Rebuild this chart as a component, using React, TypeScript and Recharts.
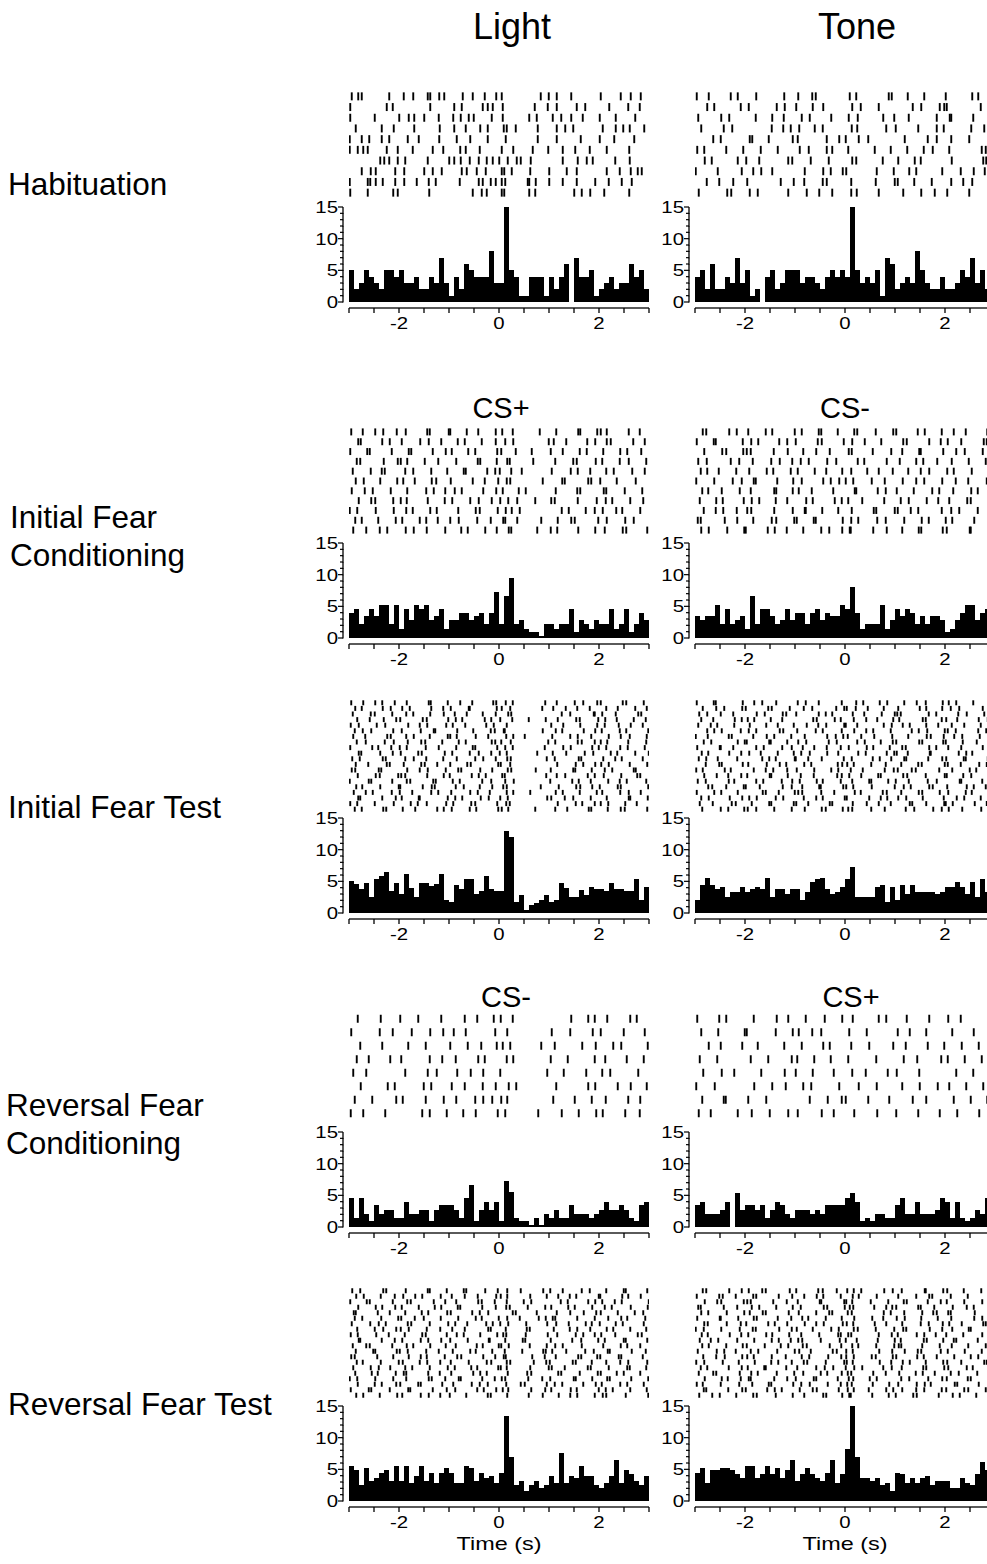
import React from "react";
import { BarChart, Bar, XAxis, YAxis, ScatterChart, Scatter } from "recharts";

const FONT = '"Liberation Sans", Arial, Helvetica, sans-serif';

// x axis: time (s), 0.1 s bins from -3 to 3
const BIN = 0.1;
const X_TICKS = [-3, -2.5, -2, -1.5, -1, -0.5, 0, 0.5, 1, 1.5, 2, 2.5, 3];
const X_LABELS = [-2, 0, 2];
const Y_TICKS = [0, 1, 2, 3, 4, 5, 6, 7, 8, 9, 10, 11, 12, 13, 14, 15];

// PSTH values, one per 0.1 s bin
const habLightPsth = [5, 2, 3, 5, 4, 3, 2, 5, 5, 4, 5, 3, 3, 4, 2, 2, 4, 3, 7, 3, 1, 4, 2, 6, 5, 4, 4, 4, 8, 3, 3, 15, 5, 4, 1, 1, 4, 4, 4, 1, 4, 2, 4, 6, 0, 7, 4, 4, 5, 1, 2, 3, 4, 2, 3, 3, 6, 4, 5, 2];
const habTonePsth = [4, 5, 2, 6, 2, 2, 4, 3, 7, 3, 5, 1, 2, 0, 4, 5, 2, 3, 5, 5, 5, 3, 4, 4, 3, 2, 4, 5, 4, 5, 4, 15, 5, 3, 4, 3, 5, 1, 7, 6, 2, 3, 4, 3, 8, 5, 3, 2, 2, 4, 2, 2, 3, 5, 4, 7, 3, 5, 2, 3];
const ifcLightPsth = [4, 4.6, 2.2, 3.4, 4.6, 3.4, 5.2, 5.2, 2.2, 5.2, 1.5, 4.6, 2.8, 5.2, 4.6, 5.2, 2.8, 3.4, 4.6, 1.5, 2.8, 2.8, 4, 4, 2.8, 3.4, 4, 2.2, 4, 7.3, 2.2, 6.7, 9.5, 2.2, 2.8, 1.5, 0.9, 0.9, 0.3, 2.2, 2.2, 1.5, 2.2, 2.2, 4.6, 0.9, 2.8, 2.2, 1.5, 2.8, 2.2, 2.2, 4.6, 1.5, 2.2, 4.6, 0.9, 2.2, 4, 2.8];
const ifcTonePsth = [3.4, 2.8, 3.4, 3.4, 5.2, 2.2, 4.6, 2.2, 2.8, 3.4, 1.5, 6.7, 2.2, 4.6, 4.6, 3.4, 2.2, 2.8, 4.6, 2.8, 4, 4, 2.2, 4, 4.6, 2.8, 4, 3.4, 3.4, 5.2, 4.6, 8, 4, 1.5, 2.2, 2.2, 2.2, 5.2, 1.5, 2.8, 4.6, 3.4, 4.6, 4, 2.2, 3.4, 2.2, 3.4, 3.4, 2.8, 0.9, 1.5, 2.8, 4, 5.2, 5.2, 2.8, 4, 4.6, 3.4];
const iftLightPsth = [5, 4.6, 3.8, 4.8, 2.6, 5.4, 5.8, 6.5, 3.4, 4.8, 3, 6.1, 4, 2.6, 4.8, 4.8, 4.2, 4.6, 6.1, 2, 1.7, 4.4, 3.8, 5.4, 5.4, 3, 3.4, 5.8, 3.8, 3.4, 3.4, 13, 12, 1.7, 2.9, 0.5, 1.2, 1.6, 2, 2.9, 1.7, 2.1, 4.8, 4, 2.6, 2.6, 3.6, 2.9, 4.1, 3.8, 3.8, 3.4, 4.8, 3.8, 3.8, 3.4, 3.4, 5.4, 2.1, 4.1];
const iftTonePsth = [2.1, 4.5, 5.6, 4.5, 3.8, 4.1, 2.6, 3.3, 3.3, 4.1, 3.3, 3.8, 4.1, 3.8, 5.6, 2.6, 3.8, 3.8, 3, 3.8, 3.8, 2.1, 3.3, 4.9, 5.3, 5.6, 3.8, 3, 3.3, 4.1, 5.3, 7.3, 2.6, 2.6, 2.6, 2.6, 4.1, 4.5, 1.8, 4.1, 2.1, 4.5, 3, 4.5, 3.3, 3.3, 3.3, 3.3, 3, 3.3, 4.1, 4.1, 4.9, 4.1, 3, 4.9, 2.6, 5.3, 3.3, 4];
const rfcLightPsth = [4.6, 1.5, 4.6, 2.1, 0.9, 3.4, 2.1, 2.7, 2.7, 1.5, 1.5, 4, 2.1, 2.1, 2.7, 2.7, 0.9, 2.7, 3.4, 3.4, 3.4, 2.7, 1.5, 4.6, 6.7, 0.9, 2.7, 4, 2.7, 4, 0.9, 7.3, 5.5, 1.5, 0.9, 0.9, 0.3, 1.5, 0.3, 2.1, 1.5, 2.7, 1.5, 1.5, 3.4, 2.1, 2.1, 2.1, 1.5, 2.1, 2.7, 4, 2.7, 2.7, 3.4, 2.7, 1.5, 0.9, 3.4, 4];
const rfcTonePsth = [3.4, 4, 2.1, 2.1, 2.1, 2.7, 4, 0, 5.3, 2.7, 3.4, 3.4, 2.7, 3.4, 1.5, 2.7, 4, 3.4, 2.1, 1.5, 2.7, 2.7, 2.7, 2.1, 2.7, 2.1, 3.4, 3.4, 3.4, 3.4, 4.6, 5.3, 4, 0.9, 1.5, 0.9, 2.1, 2.1, 1.5, 1.5, 3.4, 4.6, 2.1, 2.1, 4, 2.1, 2.1, 2.1, 2.7, 4.6, 4, 1.5, 4, 1.5, 0.9, 1.5, 2.7, 2.1, 4.6, 2.5];
const rftLightPsth = [5.6, 4.9, 2.5, 5.2, 3.2, 3.6, 4.5, 4.9, 3.2, 5.6, 3.2, 5.6, 2.9, 3.9, 5.6, 3.2, 4.5, 2.9, 4.5, 5.2, 4.5, 2.9, 2.9, 5.6, 5.2, 3.2, 4.5, 3.6, 3.9, 2.9, 4.5, 13.5, 6.9, 2.5, 3.2, 1.6, 2.5, 3.2, 2, 2.5, 3.9, 2.9, 7.6, 2.9, 3.9, 3.6, 5.6, 3.9, 3.9, 2.5, 2, 2.9, 3.9, 6.5, 2.9, 4.9, 4.2, 3.2, 2.5, 3.9];
const rftTonePsth = [4.5, 5.2, 2.9, 4.9, 4.9, 5.2, 5.2, 4.9, 4.2, 3.6, 5.6, 5.6, 3.6, 4.2, 5.6, 4.2, 5.2, 3.6, 4.9, 6.5, 3.2, 4.2, 5.2, 4.2, 3.6, 3.2, 4.5, 6.5, 2.9, 4.2, 8.2, 15, 6.9, 3.6, 3.6, 3.2, 3.6, 2.5, 2.9, 1.6, 4.5, 4.2, 2.9, 3.6, 2.9, 3.6, 3.9, 2.5, 3.2, 3.2, 3.2, 2, 2, 3.6, 2.9, 2.5, 4.2, 6.2, 4.9, 4];

// Raster trials: one char per 0.1 s bin ('.' = no spike, digit = spike at +0.0d s in the bin),
// grouped by second with spaces
const habLightRaster = [
  "585.....0. 9.8..72.00 ..7.7..1.4 5.......39 .5..4..... 3...3.3.3.",
  "2......57. ......2... .05...777. 7......1.7 .5...5.2.. ..0..8..1.",
  "2....1.... 09.0.0.9.. 8.399...5. 7.....05.. 7.4.4.7... 1..3...2..",
  ".3....5.9. ...0....1. .0.3..27.. 95.3...7.. .5.28..... 7..38.1..0",
  "1.5.0.5.0. .7.9....0. .5..2..7.. .3.....7.. .5....3... 1..0...0..",
  "1787...5.7 ..7...7.8. ..23..1... 5.8...7..8 ..7..2..1. .5....0...",
  "......2007 .2...7.... 003.19.57. 07.53.3... ..7..7.57. ...2..1...",
  "..5.33...2 .0...07.5. ..55.5.3.. 505...2... 0..5.5.... .5..1.375.",
  "1..7237..2 .0.5.9.3.. ..1..97.33 52...703.. 0.7..5...2 .9..5.5...",
  "2..7....87 ......0... ....7.55.. 50....02.. .....05.2. .0....0...",
];
const habToneRaster = [
  "3.7....15. ..2....8.. 6..41..... 9.2.....73 ..5..8.... 1....46..2",
  "..48.....1 7.....39.. 2..5.6.... .4.1..7... ...5.2..98 3......1.4",
  "6....28... ..1..4.7.. .39....2.. 7.5....6.8 ..7.....3. 92...6....",
  ".2...7.4.. .....3.6.1 8..9.5.... .34.....2. 1...6...37 .....2.8..",
  "...6.1.... 94..7....5 5.....3.8. 1.7.6..... .9....5.3. .2..8...6.",
  "48....2..6 ...1..5... 9.7...34.. 6....9...1 ..4..7.5.. 8......31.",
  ".9.3....5. 2.8.....64 ...1..7... .42....5.. 6..9.1.... .3.....62.",
  "1...5....3 .6.2.4.... .9...6.1.5 2.....3..7 ..8.2....4 ...1.7.9..",
  "..3.8..6.. 4......1.7 .8...53... .2....1..9 5..8...3.. .2.6.4...7",
  "7.....42.. 9.5.....6. ..3.8..4.. .23...7... .6...2.9.. 4...8....5",
];
const ifcLightRaster = [
  "4.7..28..5 .3...61..9 2..5.8...3 6.7.....1. .4...82..6 35...9..1.",
  ".83...6.1. 5...29..4. .7.1..5..3 .28......9 9..4...6.2 .53...8..1",
  "2..61...5. .94...7..3 5..8.2...6 4..3..5... 3.7...15.. 8...26..4.",
  ".52...9..7 36...1.8.. .4...72..5 .61...8... .2..85...3 6...19...4",
  "7...3.51.. .28...4..6 ..93...6.2 1.4.5..... 5...37..2. .49...6..1",
  ".39...2..6 8..1..54.. 3...7..1.8 .52.....7. ..61...84. 2..5...3..",
  "5..17...3. .6...49..2 .15...8..4 7..9.3.... .3...62... 94...1..6.",
  ".9..42..8. 35...7...1 6...29..5. 28.6...2.. 41...7...5 .36...2.8.",
  "16...3..9. .47...25.. .8...31..7 .35.1..... ..59...3.1 7..46...2.",
  ".25..8...3 6...14.7.. 29...6..3. 82.6....4. .7..41...8 .5...29...",
  "8..4..16.. .39..5...2 ..47...2.5 .94....6.. 36...8...2 .1..74...6",
];
const ifcToneRaster = [
  ".52...8.3. 6...14...9 .3..72..5. .84...1..6 2...59...3 .7..1...48",
  "3..71....5 .26...8.4. 1...53...7 .4.9...2.. .63...8..1 5..2...73.",
  ".8...42..6 31...7..5. .6..2.9... 73...5...2 .4..81...6 ..29...5..",
  "6.3....18. .5...29..4 .17...4.2. ..58....3. 9...26..4. .3..7...1.",
  ".14.7...2. 8...36...1 5..9..2..4 .2..4.7..5 ..6..18... 47...3..9.",
  "2..8...5.3 .71...4..6 .3...6.18. 16...3.9.. .5..28...4 ..1.6...37",
  ".46..3..9. .1...82..5 7..3...6.. .92...5.1. 3..7...48. .6...25..1",
  "9...25...7 .38...1.4. ..25...9.3 6..4...8.. .17...3.6. 8...41...2",
  ".7..16..3. 42...8...5 .91..4..6. .3...72..9 5..16....3 .28...5..7",
  "51...9..4. .6...32..8 3..71....5 .26...4.1. .8...37... 14...8..6.",
  ".27...4..8 1...59..3. .6...28..4 91...6..3. .4..72...5 3...91..8.",
];
const iftLightRaster = [
  "4.8..26..1 .5...93..7 ..2.6...84 .37......2 .5...18..6 3...74..9.",
  ".25...7.3. 6.1...4.8. 3..91....5 5.2.....6. 8..3.6..1. .4.7...2.5",
  "7...31..6. .48...2.9. .1.5..7..3 .84....... ..5.2...91 6..3...84.",
  ".6..1.9..4 2...75...8 .36....14. 2.6..9...3 .7...41..8 .2.5..9..3",
  "39...5.2.. .8..16...4 7..2...49. .5........ 4.8...2..6 .1.9..3.7.",
  ".17.4...8. 5...3.92.. .6..8...31 91......7. .36...9..2 5...14...8",
  "8..2...63. .49...1..7 25...3.8.. .48..1.... 6...27..4. .9..3.1..5",
  ".5.3...19. .7..42..6. .9.3....52 4.3......8 .2...75..1 36...8...4",
  "2...68..4. 15...3.9.. .4..72...6 .27......1 ..8.3...69 .4..27...1",
  ".94...2.7. 3..85....1 6...19..4. 15.....6.. 7..4...18. ..36...2.9",
  "6.1...73.. .29..4..8. .5...28..3 .63......5 .1...94... 8..25...7.",
  ".3.8...51. 9...41.6.. 2..63....8 3.2....... .6...38..2 49....1..6",
  "52...94... .6..17...3 .84...2.6. .74....3.. 3...82..5. .16...93..",
  ".7...31..8 42...6..9. 1...59.3.. 61.......4 .5.2...7.1 9...4..62.",
  "1..94...6. .52...83.. 7.1...6.4. .29....... 2...69..3. .8..15...4",
  ".46...2..9 2...7.51.. .39...1.6. 85......3. .9...42.6. 1..73....8",
  "9..37...5. 1.6...48.. 4...27..1. .58...2... .37...1..5 6...29..3.",
  ".82...6..3 5..91....7 .26...39.. 27.......6 4..18...3. .5...92..7",
  "26...1..9. ..37.5...4 8...42...6 .41....... .7...36..1 38...2.5..",
  ".15...84.. 7..2...69. 5...14...8 58.....2.. .2.6...94. .7..31...6",
];
const iftToneRaster = [
  "3..71....5 .8.4..2... 5.1.7....3 ..26..9.4. .8..3.1..5 7.2..6...9",
  ".5..28...4 1...63..9. .7.4....28 3.1.5..7.. 6...9.2..4 .18....5.3",
  "8.4..1.6.. ..39...52. 2...7.14.. .5.8...3.9 41....7.2. ..6.3..8.1",
  ".2.6...9.3 58...1.4.. ...63..9.1 .7..2.4..6 8....51..3 2.4...7.5.",
  "6..14..8.. 9...2.5..7 ..3.6.2..8 1.4....7.3 .59...2.6. .3.8...1.4",
  "..48.3...1 7.2...96.. 4...15...3 .8..26...1 ...37.4..9 5.1...6.2.",
  "1.5...73.. .6..38...2 .9....4.16 5..2.8...4 ..6...31.7 .8.4..9...",
  ".7.2....59 3...81..4. 6.2...7.3. ..49...1.5 2...84...6 1..5..3.8.",
  "4...91.6.. ..27...4.3 .5.8..3..1 7...36..9. .41...8.2. 6..2...59.",
  ".36...8..2 8..1..5..7 .29...4.6. ..6.1...38 3.5...91.. ..7.24...6",
  "7.2.5...4. ...48.1..9 1.6..3...7 .3...59..2 .82...6..4 2..71...5.",
  "..1.83...5 6...3.9.2. .8.2....54 47...2..1. .2..63...9 5..1..8.3.",
  "25...9.1.. .7..16..4. 3..8...26. .1.5...9.7 5..31...8. .4..9.2..6",
  ".8..3.6..2 4...92..5. .1.7....43 8..2..61.. .64...1..9 3..6.2...7",
  "5.1...78.. ..26...3.4 9...35...1 .4..82..6. 1.7...5.3. ..92...4.8",
  "..64..2..7 1.9....5.3 .4..81...6 26...3...9 .7.1..85.. 4...37..1.",
  "3..8.2..5. ...51.7..9 64...2.8.. .9.1...53. .2..74..9. 6...13...5",
  ".27...9..4 8.3...16.. .7..25...9 3...8..14. 6.2..5...7 ..38...1.6",
  "9..5...31. .3..82...7 2.6...94.. .5..3.7..1 ..94..2..8 15...9..3.",
  ".4...16..8 5.2..8...3 .9...31..5 64...2.9.. ..18...6.3 7..4...26.",
];
const rfcLightRaster = [
  ".7....3... 2..8....4. ...1.6..9. 3.7....... ....4..8.1 .6....25..",
  "4.....1.7. ..5...2.8. 9..3.....2 .6........ 5...2...7. 3...9....1",
  "..2...6... .8...3.... 2..7..4..5 7.2.....4. .1....6..3 ..8.4....7",
  ".5.9....2. 4.....1.6. .3...8.1.. .58....... 3..7.....1 .2...5..9.",
  "8..4...... .2...7.5.. .6..3.8... 2........6 ..9....4.. 6.2....8..",
  "..3....7.1 ....9.4... 5..1..7..3 .9.4...... .4.....8.2 ...7..3..5",
  ".1..6....4 7....3..9. .4...28.6. 46........ 8....1..5. .3...8..2.",
  "3.8....2.. ....6.1..5 ..8..3...7 .2.....8.. ..5..9...4 7....2..1.",
];
const rfcToneRaster = [
  "4...8.2... .7....3.6. ..1..9...4 .5....7.2. ..3...8... 6..1.....4",
  ".2..6....9 3.....1..5 7..4.2.... 8...3..... 5.9...2... .4...7...1",
  "..7..1...4 ..5....8.. .3...69... .2..8....6 ..1...5..8 ...3..7...",
  "9...4..... .1..6....3 4..8...1.. 6.....2... .7..4....2 5..9...3..",
  ".6...3.8.. ...2...9.. 1..5...7.. .4..1...5. 3...8..... ..2..6...9",
  "2..9...... .8...4..1. .6.2....8. ..7...3... .4..9...5. 8...2..6..",
  ".4...71... 6...2..... ..9...5..3 1...6...8. ...5..2... .7...1..4.",
  "7..1....5. .3..9...6. 5....3.7.. .8....4... 2...6...9. ..4...8..3",
];
const rftLightRaster = [
  "6.2...84.. .3...71..5 ..94...2.7 .6..3...8. 2.7...5.1. .4..93...6",
  ".49...3..1 8..26...3. 5..1.7...4 36....2..5 .8..14...9 2...68..3.",
  "2..51...7. .63...9..2 .4...85..1 .5..9.4... ..37...8.2 6..15....9",
  ".8...36..2 5..9...14. .72...6..3 .41..7...2 4..8.1..6. .15...3..7",
  "93...7..1. .2..58...6 3...6.18.. ..73...5.. .5..2.9..4 3..7...18.",
  ".16...4..8 4..19...3. .8...35..9 .6..1..9.3 72...6...1 .8..46...2",
  "5...29.3.. .74...1..8 .2.6...47. 28...4...6 .4.9...35. 1..37...9.",
  ".6...18..4 39...5..2. 6..1...83. .3...51... 9...16..2. .58...2..4",
  "37...4.9.. .1..63...5 .59...2..6 84...3...7 .6...38..1 4..2...75.",
  ".92...5..1 6...38..4. 2..7...91. .2..72.... 3...6.4..8 .1..93...6",
  "7..41...6. .58...2..3 .3...57..9 49....1..5 .27...5... 8...36..2.",
  ".3..82...5 17...4.9.. 7...23..6. .1..6...83 6..4...29. .71...5..3",
  "41...6..8. .9..35...1 .64...8..2 93....6..1 .3...84..6 2..94...7.",
  ".57...3..9 7...16..2. 3..9...54. .52...9..4 1...73..5. .4..28...6",
  "8...39..2. .26...1..7 .1..46...8 35....2..9 5..1...73. .9...61..4",
  ".2..57...3 94...8..1. 4...8.25.. .7...64... .84...1..7 3..59...2.",
  "16...2..8. .4...95..2 .93...6..1 52...8..6. 2...93..6. .61...4..8",
  ".7...15..4 2..83...6. 8...5.17.. .4..31...5 .16...8..3 5...26..9.",
  "3..94...1. .82...7..5 .2...69..4 78....4..2 4...35...9 .37...2..5",
  ".48...1..6 6...39..2. 1..4...73. .6...9..7. .9..26...1 74...3...8",
];
const rftToneRaster = [
  ".52...8..3 7..41...9. 2...65..3. 47.2...8.5 .3...91..6 4..7...28.",
  "3...85..1. .62...7..4 .8..36...1 .57...3... 6...2.84.. .1..5...93",
  ".9..42...7 41...6..3. 5...92...8 24...1..6. .73...5..1 3..8...46.",
  "61...7..4. .38...2..5 .1...74..9 96...8..24 2...61.8.. .5..37...2",
  ".26...3..8 9..51...7. 7...2.84.. 53.....7.1 .8...4.63. 61...9...4",
  "4...91..6. .73...5..2 .46...1..3 .8...4.6.. 39...2..5. .2...8.47.",
  ".85...3..1 2...69..4. .9..27...5 36...9..2. .4...17..5 8..3...61.",
  "17...2..9. .51...8..3 3..5...27. .75...1..8 .62...9..4 .4..71...9",
  ".35...9..2 6...24..8. .2..8...61 62....7..3 5...38..1. 2..6...47.",
  "9..16...4. .8...37..1 64...1..9. 1.3...5..9 .1...73..6 .72...5..3",
  ".47...2..5 3..9...16. .53...9..2 .46...2..8 72...4..9. .3..6...18",
  "5...38..1. .16...4..9 8..1...53. 25....8..4 .9..52...1 5..9...3.6",
  ".6..29...4 47...3..1. .38...6..2 27...31..5 2...47..3. .8...16..2",
  "28...5..7. .9...26..3 .74...1..8 35....9..2 .59...1..6 4..2...83.",
  ".14...7..3 5..81...2. 4...29.6.. 18.4...6.3 .3...62..8 6...35...9",
  "7..62...9. .25...3..8 .6...14..3 52...6..1. 8...15.9.. .17...4..5",
  ".9...35..1 71...8..4. 1..72...5. 76..9.3... .28...6..4 3...51...7",
  "35...1..8. .4..72...6 .29...5..1 43...5..8. 6...39.1.. .94...7..2",
  ".72...6..4 1...49.3.. 9..53...7. 57..7...26 .4..28...3 2..86...1.",
  "8..49...2. .63...1..5 .8...62..4 81...4..7. 1..63...7. .59...2..4",
];

const PX_PER_S = 50;
const HIST_PLOT_H = 101;
const ZERO_PAD = 6;
const UNIT = (HIST_PLOT_H - ZERO_PAD) / 15;
const TICK_FS = 17;
const LABEL_SX = 1.2;
const Y_AXIS_W = 48;
const TOP_M = 12;

const parseTrial = (s: string) => {
  const cells = s.replace(/ /g, "");
  const out: number[] = [];
  for (let i = 0; i < cells.length; i++) {
    const c = cells[i];
    if (c !== ".") out.push(-3 + i * BIN + (Number(c) + 0.5) * 0.01);
  }
  return out;
};

function XTick(props: any) {
  const { x, y, payload, showTime } = props;
  const v = payload.value;
  return (
    <g>
      {v < 3 && <line x1={x} x2={x + PX_PER_S / 2} y1={y} y2={y} stroke="#000" strokeWidth={1.3} />}
      <line x1={x} x2={x} y1={y} y2={y + 5} stroke="#000" strokeWidth={1.3} />
      {X_LABELS.includes(v) && (
        <text transform={`translate(${x},${y + 21}) scale(${LABEL_SX},1)`} textAnchor="middle" fontSize={TICK_FS} fontFamily={FONT} fill="#000">
          {String(v)}
        </text>
      )}
      {showTime && v === 0 && (
        <text transform={`translate(${x},${y + 43}) scale(1.3,1)`} textAnchor="middle" fontSize={18} fontFamily={FONT} fill="#000">
          Time (s)
        </text>
      )}
    </g>
  );
}

function YTick(props: any) {
  const { x, y, payload } = props;
  const v = payload.value;
  const ax = x - 6;
  const major = v % 5 === 0;
  return (
    <g>
      {v < 15 && <line x1={ax} x2={ax} y1={y + 0.6} y2={y - UNIT} stroke="#000" strokeWidth={1.3} />}
      <line x1={ax - (major ? 5 : 3)} x2={ax} y1={y} y2={y} stroke="#000" strokeWidth={1.2} />
      {major && (
        <text transform={`translate(${ax - 5},${y + 6}) scale(${LABEL_SX},1)`} textAnchor="end" fontSize={TICK_FS} fontFamily={FONT} fill="#000">
          {String(v)}
        </text>
      )}
    </g>
  );
}

function Histogram({ values, plotLeft, top15, showTime }: any) {
  const data = values.map((v: number, i: number) => ({ t: -3 + (i + 0.5) * BIN, v }));
  const xh = showTime ? 54 : 30;
  return (
    <div style={{ position: "absolute", left: plotLeft - Y_AXIS_W, top: top15 - TOP_M }}>
      <BarChart width={Y_AXIS_W + 6 * PX_PER_S + 6} height={TOP_M + HIST_PLOT_H + xh} data={data} margin={{ top: TOP_M, right: 6, bottom: 0, left: 0 }} barGap={0} barCategoryGap={0}>
        <XAxis dataKey="t" type="number" domain={[-3, 3]} ticks={X_TICKS} interval={0} axisLine={false} tickLine={false} tickSize={0} tickMargin={0} height={xh} allowDataOverflow tick={(p: any) => <XTick {...p} showTime={showTime} />} />
        <YAxis type="number" domain={[0, 15]} ticks={Y_TICKS} interval={0} width={Y_AXIS_W} axisLine={false} tickLine={false} tickSize={0} tickMargin={0} padding={{ top: 0, bottom: ZERO_PAD }} allowDataOverflow tick={(p: any) => <YTick {...p} />} />
        <Bar dataKey="v" barSize={5} isAnimationActive={false} shape={(p: any) => <rect x={p.x} y={p.y} width={p.width} height={Math.max(0, p.height)} fill="#000" shapeRendering="crispEdges" />} />
      </BarChart>
    </div>
  );
}

function Raster({ trials, plotLeft, top, height, tickH }: any) {
  const data = trials.flatMap((s: string, i: number) => parseTrial(s).map((t) => ({ t, trial: i + 1 })));
  return (
    <div style={{ position: "absolute", left: plotLeft, top }}>
      <ScatterChart width={6 * PX_PER_S} height={height} margin={{ top: 0, right: 0, bottom: 0, left: 0 }}>
        <XAxis type="number" dataKey="t" domain={[-3, 3]} hide allowDataOverflow />
        <YAxis type="number" dataKey="trial" domain={[0.5, trials.length + 0.5]} reversed hide allowDataOverflow />
        <Scatter
          data={data}
          isAnimationActive={false}
          shape={(p: any) => <line x1={p.cx} x2={p.cx} y1={p.cy - tickH / 2} y2={p.cy + tickH / 2} stroke="#000" strokeWidth={1.9} />}
        />
      </ScatterChart>
    </div>
  );
}

function Label({ x, y, size, children, center }: any) {
  return (
    <div
      style={{
        position: "absolute",
        left: x,
        top: y,
        transform: center ? "translate(-50%, -50%)" : "translateY(-50%)",
        fontSize: size,
        lineHeight: 1,
        whiteSpace: "nowrap",
      }}
    >
      {children}
    </div>
  );
}

const LEFT_X = 349;
const RIGHT_X = 695;

const rows = [
  { rasterTop: 91, rasterH: 107, tickH: 8, top15: 207, light: habLightRaster, tone: habToneRaster, lightPsth: habLightPsth, tonePsth: habTonePsth },
  { rasterTop: 427, rasterH: 108, tickH: 7, top15: 543, light: ifcLightRaster, tone: ifcToneRaster, lightPsth: ifcLightPsth, tonePsth: ifcTonePsth },
  { rasterTop: 700, rasterH: 112, tickH: 5, top15: 818, light: iftLightRaster, tone: iftToneRaster, lightPsth: iftLightPsth, tonePsth: iftTonePsth },
  { rasterTop: 1012, rasterH: 108, tickH: 8, top15: 1132, light: rfcLightRaster, tone: rfcToneRaster, lightPsth: rfcLightPsth, tonePsth: rfcTonePsth },
  { rasterTop: 1288, rasterH: 110, tickH: 5, top15: 1406, light: rftLightRaster, tone: rftToneRaster, lightPsth: rftLightPsth, tonePsth: rftTonePsth },
];

export default function App() {
  return (
    <div
      style={{
        position: "absolute",
        left: 0,
        top: 0,
        width: 987,
        height: 1564,
        overflow: "hidden",
        background: "#fff",
        color: "#000",
        fontFamily: FONT,
      }}
    >
      <Label x={512} y={27} size={36} center>Light</Label>
      <Label x={857} y={27} size={36} center>Tone</Label>

      <Label x={8} y={185} size={31.5}>Habituation</Label>
      <Label x={10} y={518} size={31.5}>Initial Fear</Label>
      <Label x={10} y={556} size={31.5}>Conditioning</Label>
      <Label x={8} y={808} size={31.5}>Initial Fear Test</Label>
      <Label x={6} y={1106} size={31.5}>Reversal Fear</Label>
      <Label x={6} y={1144} size={31.5}>Conditioning</Label>
      <Label x={8} y={1405} size={31.5}>Reversal Fear Test</Label>

      <Label x={501} y={408} size={29} center>CS+</Label>
      <Label x={845} y={408} size={29} center>CS-</Label>
      <Label x={506} y={997} size={29} center>CS-</Label>
      <Label x={851} y={997} size={29} center>CS+</Label>

      {rows.map((r, i) => (
        <React.Fragment key={i}>
          <Raster trials={r.light} plotLeft={LEFT_X} top={r.rasterTop} height={r.rasterH} tickH={r.tickH} />
          <Raster trials={r.tone} plotLeft={RIGHT_X} top={r.rasterTop} height={r.rasterH} tickH={r.tickH} />
          <Histogram values={r.lightPsth} plotLeft={LEFT_X} top15={r.top15} showTime={i === rows.length - 1} />
          <Histogram values={r.tonePsth} plotLeft={RIGHT_X} top15={r.top15} showTime={i === rows.length - 1} />
        </React.Fragment>
      ))}
    </div>
  );
}
